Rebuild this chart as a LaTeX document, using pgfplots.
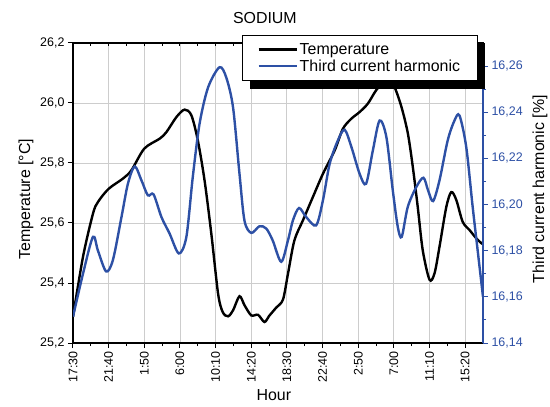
\documentclass[border=0pt]{standalone}
\usepackage{fontspec}
\setmainfont{Liberation Sans}
\usepackage{pgfplots}
\pgfplotsset{compat=1.18}
\usetikzlibrary{shadows}
\definecolor{hblue}{RGB}{45,80,165}
\definecolor{gridgray}{RGB}{205,205,205}
\begin{document}
\begin{tikzpicture}
\useasboundingbox (-73bp,-64bp) rectangle (477bp,343bp);
\begin{axis}[
  at={(0,0)}, anchor=south west, scale only axis, width=410bp, height=300bp,
  xmin=0, xmax=11.5, ymin=25.2, ymax=26.2,
  xtick={0,1,2,3,4,5,6,7,8,9,10,11},
  xticklabels={17:30,21:40,1:50,6:00,10:10,14:20,18:30,22:40,2:50,7:00,11:10,15:20},
  minor x tick num=1,
  ytick={25.2,25.4,25.6,25.8,26.0,26.2},
  tick pos=left, tick align=outside,
  major tick length=5bp, minor tick length=3bp,
  every tick/.style={black, line width=1bp},
  axis line style={line width=1.2bp},
  grid=major, major grid style={gridgray, line width=0.9bp},
  tick label style={font=\fontsize{12.5}{12.5}\selectfont},
  xticklabel style={rotate=90, anchor=east},
  yticklabel style={/pgf/number format/.cd, use comma, fixed, fixed zerofill, precision=1, assume math mode=true},
  title={SODIUM},
  title style={at={(0.468,1)}, anchor=south, yshift=10bp, font=\fontsize{16}{16}\selectfont},
  xlabel={Hour},
  xlabel style={at={(axis description cs:0.49,0)}, anchor=base, yshift=-57bp, font=\fontsize{16}{16}\selectfont},
  ylabel={Temperature [°C]},
  ylabel style={at={(axis description cs:-0.1146,0.48)}, anchor=center, font=\fontsize{16}{16}\selectfont},
]
\addplot[black, line width=2.4bp, smooth, tension=0.5] coordinates {
(0,25.287) (0.28,25.487) (0.56,25.631) (0.70,25.67) (1.0,25.714) (1.4,25.748) (1.64,25.776)
(2.0,25.848) (2.43,25.881) (2.62,25.903) (2.9,25.953) (3.13,25.978) (3.32,25.959) (3.5,25.876)
(3.69,25.742) (3.88,25.564) (4.07,25.364) (4.2,25.303) (4.35,25.289) (4.49,25.309) (4.67,25.356)
(4.81,25.326) (5.0,25.292) (5.19,25.294) (5.37,25.27) (5.5,25.29) (5.7,25.318) (5.89,25.345)
(6.03,25.431) (6.21,25.542) (6.45,25.609) (6.73,25.687) (7.01,25.764) (7.34,25.842) (7.57,25.914)
(7.81,25.948) (8.04,25.970) (8.27,25.998) (8.5,26.042) (8.75,26.075) (8.9,26.07) (9.02,26.053)
(9.21,25.988) (9.39,25.9) (9.53,25.788) (9.67,25.653) (9.81,25.509) (10.0,25.411) (10.14,25.432)
(10.28,25.521) (10.47,25.653) (10.61,25.703) (10.75,25.677) (10.93,25.604) (11.12,25.577)
(11.31,25.549) (11.48,25.53)
};
\end{axis}
\begin{axis}[
  at={(0,0)}, anchor=south west, scale only axis, width=410bp, height=300bp,
  xmin=0, xmax=11.5, ymin=25.2, ymax=26.2,
  axis x line*=top, axis y line*=left,
  xtick={0,1,2,3,4,5,6,7,8,9,10,11}, xticklabels={}, minor x tick num=1,
  ytick=\empty, minor ytick={25.3,25.5,25.7,25.9,26.1},
  tick align=inside, major tick length=3bp, minor tick length=3bp,
  every tick/.style={black, line width=1bp},
  axis line style={line width=1.2bp},
]
\end{axis}
\begin{axis}[
  at={(0,0)}, anchor=south west, scale only axis, width=410bp, height=300bp,
  xmin=0, xmax=11.5, ymin=16.14, ymax=16.27,
  axis x line=none, axis y line*=right,
  ytick={16.14,16.16,16.18,16.20,16.22,16.24,16.26}, minor y tick num=1,
  tick align=outside, major tick length=5bp, minor tick length=3bp,
  every tick/.style={hblue, line width=1bp},
  y axis line style={hblue, line width=1.2bp},
  yticklabel style={hblue, font=\fontsize{12.5}{12.5}\selectfont, /pgf/number format/.cd, use comma, fixed, fixed zerofill, precision=2, assume math mode=true},
  ylabel={Third current harmonic [\%]},
  ylabel style={at={(axis description cs:1.139,0.513)}, anchor=center, font=\fontsize{16}{16}\selectfont},
  legend style={at={(rel axis cs:0.412,1.027)}, anchor=north west, draw=black, line width=0.8bp, fill=white,
    drop shadow={shadow xshift=8bp, shadow yshift=-8bp, fill=black, opacity=1},
    font=\fontsize{16}{17}\selectfont, inner xsep=15bp, inner ysep=6bp, row sep=0bp},
  legend cell align=left,
  legend image code/.code={\begin{scope}[#1]
      \pgfpathmoveto{\pgfpointorigin}\pgfpathlineto{\pgfpoint{38bp}{0bp}}\pgfusepath{stroke}
    \end{scope}},
]
\addlegendimage{black, line width=2.4bp}
\addlegendentry{Temperature}
\addlegendimage{hblue, line width=2.4bp}
\addlegendentry{Third current harmonic}
\addplot[hblue, line width=2.4bp, smooth, tension=0.5, forget plot] coordinates {
(0,16.1514) (0.28,16.170) (0.56,16.186) (0.70,16.180) (0.93,16.171) (1.12,16.176) (1.36,16.1946)
(1.54,16.209) (1.73,16.2165) (1.92,16.2105) (2.1,16.204) (2.26,16.2044) (2.48,16.1946) (2.71,16.1874)
(2.97,16.1788) (3.18,16.186) (3.36,16.212) (3.55,16.235) (3.79,16.2508) (4.11,16.2595) (4.30,16.255)
(4.49,16.242) (4.67,16.2133) (4.81,16.193) (5.0,16.1877) (5.23,16.1906) (5.42,16.1896) (5.6,16.1845)
(5.84,16.1752) (6.03,16.1845) (6.17,16.1932) (6.34,16.1985) (6.54,16.1946) (6.82,16.191) (7.01,16.2018)
(7.2,16.2177) (7.43,16.2278) (7.62,16.2324) (7.81,16.2249) (8.04,16.2133) (8.22,16.209) (8.41,16.2234)
(8.6,16.2364) (8.79,16.2292) (8.97,16.2061) (9.11,16.1903) (9.22,16.186) (9.39,16.199) (9.63,16.2076)
(9.83,16.2116) (9.96,16.2061) (10.1,16.2015) (10.28,16.2105) (10.51,16.2278) (10.7,16.2364)
(10.84,16.2386) (11.03,16.2249) (11.21,16.199) (11.36,16.1788) (11.5,16.16)
};
\end{axis}
\end{tikzpicture}
\end{document}
